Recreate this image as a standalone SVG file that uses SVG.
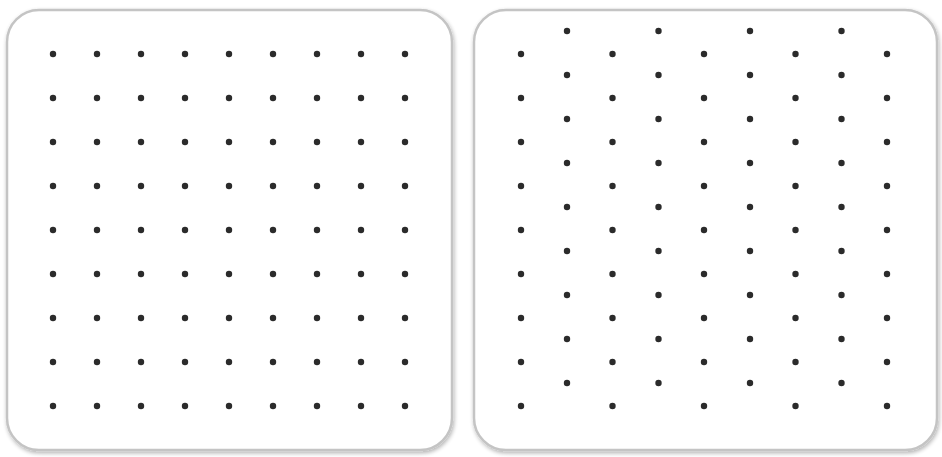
<svg xmlns="http://www.w3.org/2000/svg" width="942" height="457" viewBox="0 0 942 457">
<defs>
<style>
.panel{fill:#fff;stroke:#c4c4c4;stroke-width:2.5}
.d{fill:#2b2b2b}
</style>
<filter id="sh" x="-5%" y="-5%" width="110%" height="110%">
<feGaussianBlur in="SourceAlpha" stdDeviation="2"/>
<feOffset dx="1" dy="2"/>
<feComponentTransfer><feFuncA type="linear" slope="0.3"/></feComponentTransfer>
<feMerge><feMergeNode/><feMergeNode in="SourceGraphic"/></feMerge>
</filter>
<circle id="p" r="3.2" class="d"/>
<g id="col9">
<use href="#p" y="0"/><use href="#p" y="44"/><use href="#p" y="88"/><use href="#p" y="132"/><use href="#p" y="176"/><use href="#p" y="220"/><use href="#p" y="264"/><use href="#p" y="308"/><use href="#p" y="352"/>
</g>
</defs>
<rect width="942" height="457" fill="#fff"/>
<g id="square-grid">
<rect class="panel" x="7" y="10" width="445" height="440" rx="32" filter="url(#sh)"/>
<g transform="translate(0,54)">
<use href="#col9" x="53"/><use href="#col9" x="97"/><use href="#col9" x="141"/><use href="#col9" x="185"/><use href="#col9" x="229"/><use href="#col9" x="273"/><use href="#col9" x="317"/><use href="#col9" x="361"/><use href="#col9" x="405"/>
</g>
</g>
<g id="offset-grid">
<rect class="panel" x="474" y="10" width="463" height="440" rx="32" filter="url(#sh)"/>
<g transform="translate(0,54)">
<use href="#col9" x="521"/><use href="#col9" x="612.5"/><use href="#col9" x="704"/><use href="#col9" x="795.5"/><use href="#col9" x="887"/>
</g>
<g transform="translate(0,31)">
<use href="#col9" x="567"/><use href="#col9" x="658.5"/><use href="#col9" x="750"/><use href="#col9" x="841.5"/>
</g>
</g>
<g id="connectors"/>
</svg>
